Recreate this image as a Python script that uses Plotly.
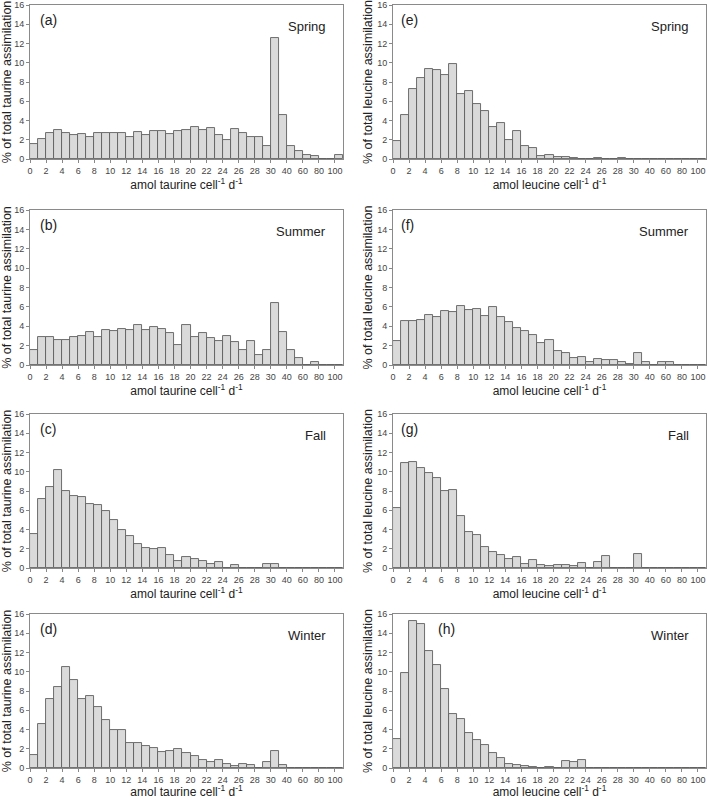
import plotly.graph_objects as go

# bin boundaries: 0..30 by 1, then 35, 40, 50, 60, 70, 80, 90, 100, >100
tick_positions = list(range(0, 31, 2)) + [32, 34, 36, 38]
tick_labels = [str(v) for v in range(0, 31, 2)] + ["40", "60", "80", "100"]

taurine_spring = [1.6, 2.1, 2.7, 3.0, 2.7, 2.5, 2.6, 2.3, 2.7, 2.7, 2.7, 2.7, 2.3, 2.8, 2.5, 2.9, 2.9, 2.6, 2.9, 3.0,
                  3.3, 3.0, 3.2, 2.5, 2.0, 3.1, 2.7, 2.3, 2.3, 1.4, 12.6, 4.6, 1.3, 0.8, 0.4, 0.3, 0, 0, 0.4]
taurine_summer = [1.5, 2.9, 2.85, 2.6, 2.6, 2.9, 3.0, 3.4, 2.9, 3.6, 3.5, 3.75, 3.6, 4.1, 3.6, 3.9, 3.7, 3.3, 2.1, 4.1,
                  2.9, 3.3, 2.8, 2.5, 2.95, 2.35, 1.5, 2.45, 1.05, 1.5, 6.4, 3.4, 1.55, 0.75, 0, 0.3, 0, 0, 0]
taurine_fall = [3.5, 7.2, 8.4, 10.2, 7.95, 7.5, 7.35, 6.7, 6.55, 5.9, 5.0, 3.9, 3.35, 2.5, 2.05, 1.95, 2.1, 1.4, 0.75, 1.15,
                0.95, 0.75, 0.45, 0.6, 0, 0.3, 0, 0, 0, 0.4, 0.4, 0, 0, 0, 0, 0, 0, 0, 0]
taurine_winter = [1.35, 4.6, 7.2, 8.4, 10.5, 9.1, 7.2, 7.45, 6.3, 5.0, 4.0, 4.0, 2.6, 2.6, 2.3, 2.05, 1.7, 1.8, 1.95, 1.55,
                  1.2, 0.8, 0.6, 0.85, 0.45, 0.25, 0.45, 0.35, 0, 0.65, 1.75, 0.35, 0, 0, 0, 0, 0, 0, 0]
leucine_spring = [1.9, 4.6, 7.3, 8.4, 9.4, 9.25, 8.75, 9.85, 6.8, 7.1, 5.7, 4.95, 3.3, 3.7, 1.95, 2.9, 1.3, 1.1, 0.35, 0.4,
                  0.2, 0.2, 0.1, 0.05, 0.05, 0.15, 0.05, 0.05, 0.15, 0.05, 0, 0, 0, 0, 0, 0, 0, 0, 0]
leucine_summer = [2.5, 4.5, 4.5, 4.65, 5.2, 5.0, 5.55, 5.5, 6.05, 5.65, 5.75, 5.1, 6.0, 4.95, 4.4, 3.85, 3.55, 3.1, 2.25, 2.6,
                  1.45, 1.2, 0.7, 0.8, 0.35, 0.65, 0.5, 0.55, 0.3, 0.1, 1.25, 0.35, 0, 0.3, 0.35, 0, 0, 0, 0]
leucine_fall = [6.25, 10.9, 11.0, 10.4, 9.9, 9.4, 8.0, 8.1, 5.4, 3.75, 3.45, 2.2, 1.7, 1.3, 0.9, 1.15, 0.4, 0.8, 0.3, 0.2,
                0.3, 0.3, 0.2, 0.55, 0, 0.6, 1.2, 0, 0, 0, 1.45, 0, 0, 0, 0, 0, 0, 0, 0]
leucine_winter = [3.05, 9.85, 15.25, 15.0, 12.2, 10.65, 8.2, 5.65, 5.05, 3.6, 2.9, 2.35, 1.6, 1.05, 0.45, 0.3, 0.25, 0.15, 0.05, 0.15,
                  0.05, 0.75, 0.65, 0.8, 0, 0, 0, 0, 0, 0, 0, 0, 0, 0, 0, 0, 0, 0, 0]

panels = [
    ("(a)", "Spring", "taurine", taurine_spring, 0, 0, 0.026),
    ("(b)", "Summer", "taurine", taurine_summer, 0, 1, 0.026),
    ("(c)", "Fall", "taurine", taurine_fall, 0, 2, 0.026),
    ("(d)", "Winter", "taurine", taurine_winter, 0, 3, 0.026),
    ("(e)", "Spring", "leucine", leucine_spring, 1, 0, 0.02),
    ("(f)", "Summer", "leucine", leucine_summer, 1, 1, 0.02),
    ("(g)", "Fall", "leucine", leucine_fall, 1, 2, 0.02),
    ("(h)", "Winter", "leucine", leucine_winter, 1, 3, 0.137),
]

W, H = 709, 799
col_px = [(30, 343), (393, 706)]
row_px = [(5, 159), (210, 365), (414, 568), (614, 768)]

FONT = "Liberation Sans, Arial, sans-serif"
fig = go.Figure()
layout = {}
annotations = []
for k, (lab, season, aa, vals, c, r, labx) in enumerate(panels):
    n = k + 1
    xa = "xaxis" if n == 1 else f"xaxis{n}"
    ya = "yaxis" if n == 1 else f"yaxis{n}"
    xr = "x" if n == 1 else f"x{n}"
    yr = "y" if n == 1 else f"y{n}"
    x0, x1 = col_px[c]
    y0, y1 = row_px[r]
    fig.add_trace(go.Bar(
        x=[i + 0.5 for i in range(len(vals))], y=vals, width=1,
        marker=dict(color="#dadada", line=dict(color="#606060", width=0.9)),
        xaxis=xr, yaxis=yr, showlegend=False,
    ))
    layout[xa] = dict(
        domain=[x0 / W, x1 / W], anchor=yr, range=[0, 39],
        tickmode="array", tickvals=tick_positions, ticktext=tick_labels, tickangle=0,
        ticks="outside", ticklen=3, tickcolor="#888",
        tickfont=dict(size=9, color="#444", family=FONT),
        showline=True, mirror=True, linecolor="#8a8a8a", linewidth=1,
        showgrid=False, zeroline=False, fixedrange=True,
        title=dict(text=f"amol {aa} cell<sup>-1</sup> d<sup>-1</sup>",
                   font=dict(size=12, color="#222", family=FONT), standoff=3),
        automargin=False,
    )
    layout[ya] = dict(
        domain=[1 - y1 / H, 1 - y0 / H], anchor=xr, range=[0, 16],
        tickmode="array", tickvals=list(range(0, 17, 2)),
        ticks="outside", ticklen=3, tickcolor="#888",
        tickfont=dict(size=9, color="#444", family=FONT),
        showline=True, mirror=True, linecolor="#8a8a8a", linewidth=1,
        showgrid=False, zeroline=False, fixedrange=True,
        title=dict(text=f"% of total {aa} assimilation",
                   font=dict(size=12.5, color="#222", family=FONT), standoff=1),
        automargin=False,
    )
    annotations.append(dict(xref=f"{xr} domain", yref=f"{yr} domain", x=labx, y=0.97,
                            text=lab, showarrow=False, xanchor="left", yanchor="top",
                            font=dict(size=14, color="#222", family=FONT)))
    annotations.append(dict(xref=f"{xr} domain", yref=f"{yr} domain", x=0.952, y=0.92,
                            text=season, showarrow=False, xanchor="right", yanchor="top",
                            font=dict(size=13, color="#222", family=FONT)))

fig.update_layout(
    width=W, height=H, margin=dict(l=0, r=0, t=0, b=0),
    paper_bgcolor="white", plot_bgcolor="white", bargap=0,
    annotations=annotations, **layout,
)
fig.write_html("out.html", config={"displayModeBar": False},
               post_script="document.body.style.margin='0px';")
